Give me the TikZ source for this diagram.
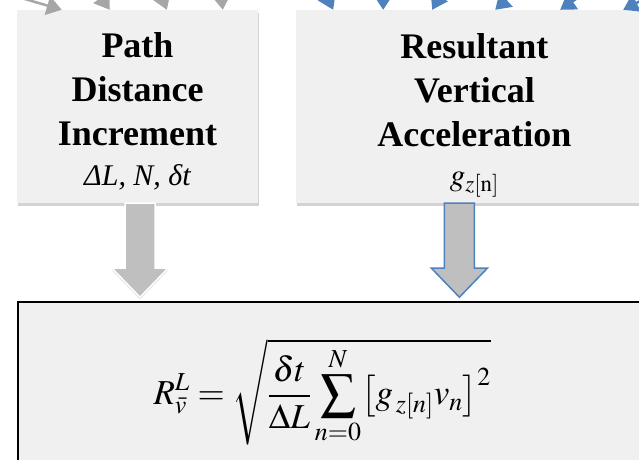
\documentclass[tikz,border=0pt]{standalone}
\usepackage{mathptmx}
\usepackage{fontspec}
\setmainfont{Liberation Serif}
\usetikzlibrary{arrows.meta,positioning,shadows}

\definecolor{boxgray}{RGB}{240,240,240}
\definecolor{arrowgray}{RGB}{191,191,191}
\definecolor{feedgray}{RGB}{166,166,166}
\definecolor{feedblue}{RGB}{79,129,189}

\begin{document}
\begin{tikzpicture}[
    x=1pt, y=-1pt,
    box/.style={fill=boxgray, minimum width=241pt, minimum height=193pt, align=center, inner sep=0pt,
      drop shadow={opacity=0.35, shadow xshift=0.5pt, shadow yshift=-3pt}},
    title/.style={font=\bfseries\fontsize{36}{44}\selectfont},
    grayfeed/.style={draw=feedgray, line width=2.5pt, -{Triangle[width=19pt,length=15pt]}},
    bluefeed/.style={draw=feedblue, line width=2.5pt, -{Triangle[width=19pt,length=15pt]}},
    blockgray/.style={fill=arrowgray, draw=white, line width=1.5pt,
      drop shadow={opacity=0.3, shadow xshift=0pt, shadow yshift=-2pt}},
    blockblue/.style={fill=arrowgray, draw=feedblue, line width=1.5pt}
  ]
    \useasboundingbox (0,0) rectangle (639,459);
    \clip (0,0) rectangle (639,459);

    \node[box, title] (pathbox) at (137.5,106.5)
      {\rule{0pt}{35pt}Path\\Distance\\Increment\\[-4pt]{\fontsize{30}{32}\selectfont\mdseries\itshape ΔL, N, δt}};
    \node[box, title, minimum width=356pt, right=38pt of pathbox.north east, anchor=north west] (accbox)
      {\rule{0pt}{43pt}Resultant\\Vertical\\Acceleration\\[-5pt]{\fontsize{31}{32}\selectfont\mdseries $g_{z[\mathrm{n}]}$}};
    \node[box, draw=black, line width=1.8pt, minimum width=643pt, minimum height=180pt,
      below=98pt of pathbox.south west, anchor=north west] (eqbox)
      {\fontsize{35}{40}\selectfont
       $\displaystyle R^{L}_{\bar v} = \sqrt{\frac{\delta t}{\Delta L}\sum_{n=0}^{N}\bigl[g_{\,z[n]}v_n\bigr]^2}$\hspace*{34pt}};

    % block arrows into the equation
    \draw[blockgray] ([xshift=2.5pt]pathbox.south) +(-15,0) -- +(-15,65) -- +(-28,65) -- +(0,94)
      -- +(28,65) -- +(15,65) -- +(15,0) -- cycle;
    \draw[blockblue] ([xshift=-15pt]accbox.south) +(-15,0) -- +(-15,65) -- +(-28,65) -- +(0,94)
      -- +(28,65) -- +(15,65) -- +(15,0) -- cycle;

    % feeds from above
    \foreach \i/\sx/\sy/\tx in {1/-40/-20/45, 2/75/-40/93, 3/140/-60/150, 4/215/-60/206} {
      \coordinate (gsrc\i) at (\sx,\sy);
      \draw[grayfeed] (gsrc\i) -- ([xshift=\tx pt]pathbox.north west);
    }
    \foreach \i/\sx/\sy/\tx in {1/300/-60/37, 2/383/-60/87, 3/470/-60/136, 4/560/-50/199, 5/640/-45/264, 6/720/-40/327} {
      \coordinate (bsrc\i) at (\sx,\sy);
      \draw[bluefeed] (bsrc\i) -- ([xshift=\tx pt]accbox.north west);
    }
  \end{tikzpicture}
\end{document}
